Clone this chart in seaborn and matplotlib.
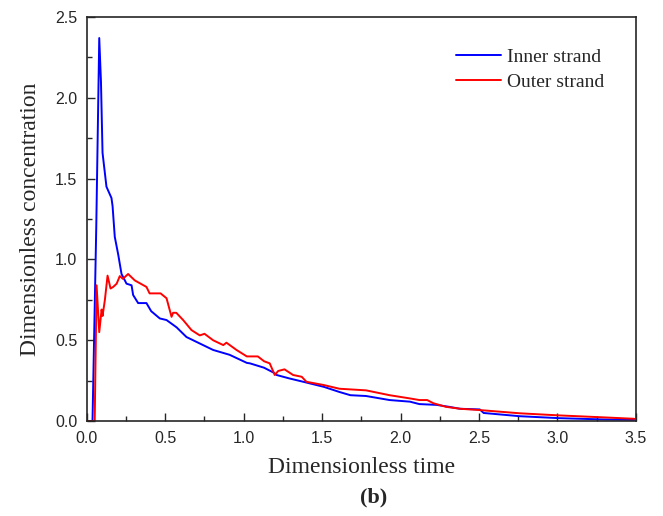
import matplotlib
matplotlib.use("Agg")
import matplotlib.pyplot as plt
from matplotlib.ticker import MultipleLocator
import seaborn as sns
import pandas as pd

# Inner strand (blue)
inner_t = [0.0, 0.036, 0.06, 0.079, 0.09, 0.10, 0.125, 0.157, 0.164, 0.178, 0.20, 0.221,
           0.253, 0.285, 0.295, 0.327, 0.38, 0.41, 0.465, 0.508, 0.572, 0.635, 0.72,
           0.805, 0.91, 1.02, 1.04, 1.13, 1.19, 1.21, 1.29, 1.38, 1.51, 1.61, 1.68,
           1.78, 1.93, 2.06, 2.12, 2.23, 2.31, 2.38, 2.505, 2.53, 2.76, 3.01, 3.29, 3.49]
inner_c = [0.0, 0.0, 1.2, 2.37, 2.1, 1.66, 1.45, 1.38, 1.33, 1.14, 1.03, 0.91,
           0.85, 0.84, 0.78, 0.73, 0.73, 0.68, 0.635, 0.625, 0.58, 0.52, 0.48,
           0.44, 0.41, 0.36, 0.357, 0.33, 0.30, 0.285, 0.264, 0.243, 0.212, 0.18, 0.16,
           0.155, 0.13, 0.12, 0.105, 0.10, 0.088, 0.076, 0.072, 0.05, 0.03, 0.018, 0.01, 0.007]

# Outer strand (red)
outer_t = [0.0, 0.05, 0.062, 0.079, 0.094, 0.10, 0.115, 0.132, 0.151, 0.168, 0.19, 0.21,
           0.23, 0.263, 0.306, 0.38, 0.40, 0.47, 0.508, 0.54, 0.55, 0.57, 0.614, 0.667,
           0.72, 0.75, 0.805, 0.87, 0.89, 0.954, 1.02, 1.09, 1.13, 1.166, 1.198, 1.22,
           1.26, 1.315, 1.37, 1.40, 1.51, 1.61, 1.78, 1.93, 2.06, 2.12, 2.17, 2.21,
           2.29, 2.38, 2.505, 2.76, 3.01, 3.29, 3.49]
outer_c = [0.0, 0.0, 0.84, 0.55, 0.69, 0.65, 0.75, 0.90, 0.82, 0.83, 0.85, 0.897,
           0.88, 0.91, 0.87, 0.83, 0.79, 0.79, 0.76, 0.645, 0.67, 0.67, 0.625, 0.563,
           0.53, 0.54, 0.50, 0.47, 0.485, 0.44, 0.40, 0.40, 0.37, 0.357, 0.285, 0.31,
           0.32, 0.285, 0.274, 0.243, 0.223, 0.20, 0.19, 0.16, 0.14, 0.13, 0.13, 0.11,
           0.088, 0.076, 0.068, 0.048, 0.035, 0.023, 0.014]

df = pd.concat([
    pd.DataFrame({"t": inner_t, "c": inner_c, "series": "Inner strand"}),
    pd.DataFrame({"t": outer_t, "c": outer_c, "series": "Outer strand"}),
])

sns.set_style("ticks")
plt.rcParams["font.family"] = ["Liberation Serif", "DejaVu Serif"]

fig = plt.figure(figsize=(6.63, 5.16), dpi=100)
ax = fig.add_axes([0.131, 0.184, 0.828, 0.783])

sns.lineplot(data=df, x="t", y="c", hue="series", estimator=None, sort=False,
             palette={"Inner strand": "#0000ff", "Outer strand": "#ff0000"},
             linewidth=1.4, ax=ax)

ax.set_xlim(0, 3.5)
ax.set_ylim(0, 2.5)
ax.xaxis.set_major_locator(MultipleLocator(0.5))
ax.xaxis.set_minor_locator(MultipleLocator(0.25))
ax.yaxis.set_major_locator(MultipleLocator(0.5))
ax.yaxis.set_minor_locator(MultipleLocator(0.25))
ax.tick_params(which="both", direction="in", top=False, right=False,
               labelsize=11.5, labelfontfamily="Liberation Sans")
ax.tick_params(which="major", length=6, width=1, pad=7)
ax.tick_params(which="minor", length=3.5, width=1)
for s in ax.spines.values():
    s.set_linewidth(1.2)
ax.set_xlabel("Dimensionless time", fontsize=17, labelpad=8)
ax.set_ylabel("Dimensionless concentration", fontsize=17, labelpad=10)

leg = ax.legend(loc="upper right", frameon=False, fontsize=14, bbox_to_anchor=(0.975, 0.965),
                handlelength=2.3, handletextpad=0.35, labelspacing=0.35)

fig.text(0.563, 0.027, "(b)", ha="center", fontsize=16, fontweight="bold")

fig.savefig("out.png", dpi=100)
